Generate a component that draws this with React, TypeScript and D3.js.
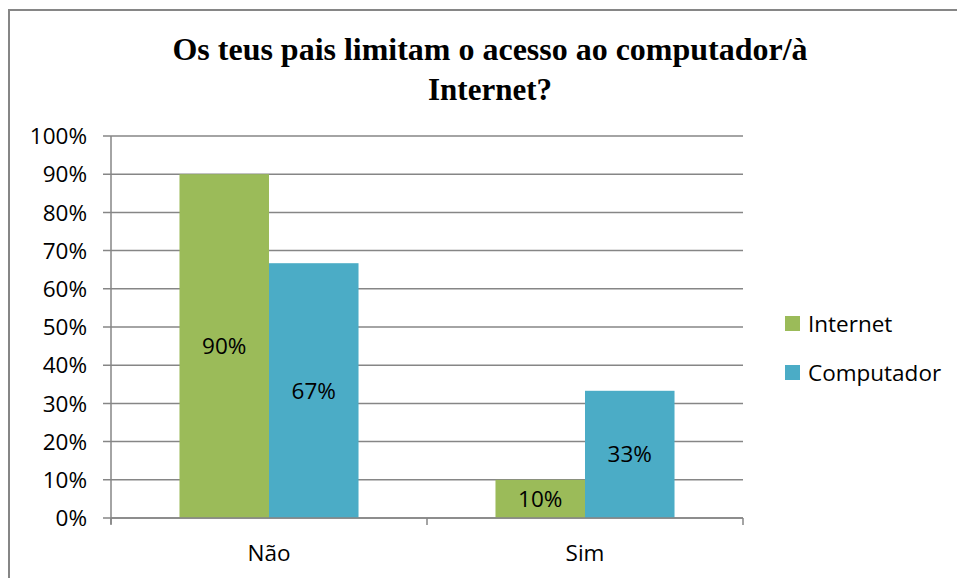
import React from 'react';
import * as d3 from 'd3';

const categories = ['Não', 'Sim'];
const seriesNames = ['Internet', 'Computador'];
const internetValues = [0.9, 0.1];
const computadorValues = [0.667, 0.333];
const valueLabels = [['90%', '10%'], ['67%', '33%']];
const yTicks = [0, 0.1, 0.2, 0.3, 0.4, 0.5, 0.6, 0.7, 0.8, 0.9, 1];
const colors = ['#9BBB59', '#4BACC6'];
const titleLines = ['Os teus pais limitam o acesso ao computador/à', 'Internet?'];

const W = 957;
const H = 578;
const plot = { left: 111, right: 743, top: 136, bottom: 518 };
const labelFont = '"Open Sans", "Noto Sans", sans-serif';
const labelSize = 22.5;

export default function App() {
  const x = d3.scaleBand().domain(categories).range([plot.left, plot.right]);
  const y = d3.scaleLinear().domain([0, 1]).range([plot.bottom, plot.top]);
  const inner = d3
    .scaleBand()
    .domain(seriesNames)
    .range([0, x.bandwidth()])
    .paddingOuter(0.765);
  const series = [internetValues, computadorValues];
  const fmt = d3.format('.0%');

  return (
    <svg
      width={W}
      height={H}
      style={{ position: 'absolute', left: 0, top: 0, background: '#fff' }}
    >
      {/* outer frame, cut off on right and bottom */}
      <path d={`M9,${H} V10 H${W}`} fill="none" stroke="#868686" strokeWidth={2} />

      <text
        x={490}
        y={60}
        textAnchor="middle"
        fontFamily='"Liberation Serif", "Times New Roman", serif'
        fontWeight="bold"
        fontSize={31}
        fill="#000"
        textLength={635}
        lengthAdjust="spacingAndGlyphs"
      >
        {titleLines[0]}
      </text>
      <text
        x={490}
        y={100}
        textAnchor="middle"
        fontFamily='"Liberation Serif", "Times New Roman", serif'
        fontWeight="bold"
        fontSize={31}
        fill="#000"
      >
        {titleLines[1]}
      </text>

      {/* gridlines + y ticks */}
      {yTicks.map((t) => (
        <g key={t}>
          <line
            x1={plot.left - 8}
            x2={plot.right}
            y1={y(t)}
            y2={y(t)}
            stroke="#868686"
            strokeWidth={1.5}
          />
          <text
            x={87}
            y={y(t)}
            dy="0.36em"
            textAnchor="end"
            fontFamily={labelFont}
            fontSize={labelSize}
            fill="#000"
          >
            {fmt(t)}
          </text>
        </g>
      ))}

      {/* y axis */}
      <line x1={plot.left} x2={plot.left} y1={plot.top} y2={plot.bottom + 6} stroke="#868686" strokeWidth={1.5} />

      {/* bars */}
      {series.map((vals, si) =>
        vals.map((v, ci) => {
          const bx = (x(categories[ci]) ?? 0) + (inner(seriesNames[si]) ?? 0);
          const bw = inner.bandwidth();
          return (
            <g key={`${si}-${ci}`}>
              <rect x={bx} y={y(v)} width={bw} height={y(0) - y(v)} fill={colors[si]} />
              <text
                x={bx + bw / 2}
                y={(y(v) + y(0)) / 2}
                dy="0.36em"
                textAnchor="middle"
                fontFamily={labelFont}
                fontSize={labelSize}
                fill="#000"
              >
                {valueLabels[si][ci]}
              </text>
            </g>
          );
        })
      )}

      {/* x axis */}
      <line x1={plot.left} x2={plot.right} y1={plot.bottom} y2={plot.bottom} stroke="#868686" strokeWidth={1.5} />
      {[...categories.map((c) => x(c) ?? 0), plot.right].map((px, i) => (
        <line key={i} x1={px} x2={px} y1={plot.bottom} y2={plot.bottom + 7} stroke="#868686" strokeWidth={1.5} />
      ))}
      {categories.map((c) => (
        <text
          key={c}
          x={(x(c) ?? 0) + x.bandwidth() / 2}
          y={553}
          dy="0.36em"
          textAnchor="middle"
          fontFamily={labelFont}
          fontSize={labelSize}
          fill="#000"
        >
          {c}
        </text>
      ))}

      {/* legend */}
      {seriesNames.map((s, i) => (
        <g key={s} transform={`translate(785, ${316 + i * 49})`}>
          <rect x={0} y={0} width={15} height={15} fill={colors[i]} />
          <text x={23} y={8} dy="0.36em" fontFamily={labelFont} fontSize={labelSize} fill="#000">
            {s}
          </text>
        </g>
      ))}
    </svg>
  );
}
